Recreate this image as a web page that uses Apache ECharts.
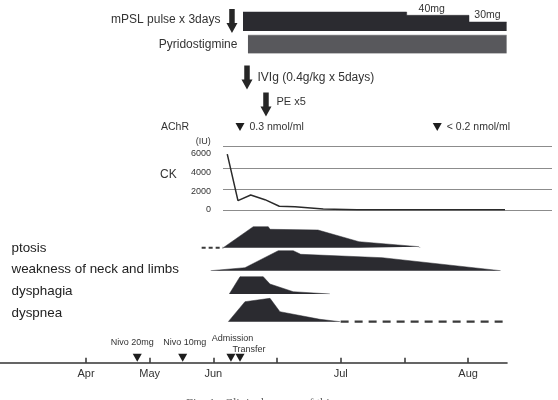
<!DOCTYPE html>
<html>
<head>
<meta charset="utf-8">
<script src="https://cdn.jsdelivr.net/npm/echarts@6/dist/echarts.min.js"></script>
<style>
  html, body { margin: 0; padding: 0; background: #fff; }
  #chart { width: 558px; height: 400px; }
</style>
</head>
<body>
<div id="chart"></div>
<script>
// time position unit: Apr=1, May=2, Jun=3, then half months (mid-Jun=4, Jul=5, mid-Jul=6, Aug=7)
var monthTicks = [1, 2, 3, 4, 5, 6, 7]
var monthNames = ['Apr', 'May', 'Jun', '', 'Jul', '', 'Aug']

// events on the time line
var eventNames = ['Nivo 20mg', 'Nivo 10mg', 'Admission', 'Transfer']
var eventPos = [1.805, 2.518, 3.276, 3.418]

// treatments (arrows)
var treatNames = ['mPSL pulse x 3days', 'IVIg (0.4g/kg x 5days)', 'PE x5']
var treatPos = [3.292, 3.528, 3.826]

// mPSL (step bar, relative level) and pyridostigmine
var mpslPos = [3.465, 6.035, 7.013, 7.604]
var mpslLevel = [19, 15.7, 9, 9]
var mpslDose = ['', '40mg', '30mg', '']
var pyridoPos = [3.543, 7.604]
var pyridoLevel = [18.3, 18.3]
var pyridoDose = '180mg'

// AChR antibody
var achrPos = [3.418, 6.515]
var achrText = ['0.3 nmol/ml', '< 0.2 nmol/ml']

// CK (IU)
var ckPos = [3.218, 3.386, 3.586, 3.810, 4.035, 4.281, 4.725, 5.250, 7.578]
var ckValue = [5950, 1000, 1600, 1100, 400, 350, 100, 20, 20]
var ckTicks = [0, 2000, 4000, 6000]

// symptoms: severity profile (relative height)
var symptomNames = ['ptosis', 'weakness of neck and limbs', 'dysphagia', 'dyspnea']
var ptosisPos = [3.155, 3.626, 3.862, 3.889, 4.642, 5.286, 6.228, 6.243]
var ptosisLevel = [0, 21, 21, 18.4, 17.7, 6, 1, 0]
var weaknessPos = [2.958, 3.496, 4.019, 4.254, 4.371, 5.652, 7.510]
var weaknessLevel = [0, 3, 20, 20, 16.4, 13, 0]
var dysphagiaPos = [3.250, 3.418, 3.783, 3.888, 4.254, 4.830]
var dysphagiaLevel = [0, 17.3, 17.3, 10, 2.3, 0]
var dyspneaPos = [3.234, 3.496, 3.889, 4.045, 4.674, 4.988]
var dyspneaLevel = [0, 20, 23.4, 10, 2.4, 0]
// uncertain periods (dashed)
var ptosisDashPos = [2.816, 3.155]
var dyspneaDashPos = [4.998, 7.604]

var DARK = '#2b2b30'
var TEXT = '#333'

function zip(xs, ys) {
  return xs.map(function (x, i) { return [x, ys[i]] })
}

var myChart = echarts.init(document.getElementById('chart'))

// grid layout: [top, height]; all timeline grids share the same x scale
var rows = [
  [340, 22.7],   // 0 time line
  [7, 24],       // 1 mPSL
  [29.5, 24],    // 2 pyridostigmine
  [16, 10],      // 3 mPSL arrow
  [72.5, 10],    // 4 IVIg arrow
  [99.5, 10],    // 5 PE arrow
  [122, 10],     // 6 AChR
  [146.7, 63.3], // 7 CK
  [223.7, 24],   // 8 ptosis
  [246.7, 24],   // 9 weakness
  [270, 24],     // 10 dysphagia
  [297.7, 24]    // 11 dyspnea
]
var yMax = [1, 24, 24, 1, 1, 1, 1, 6750, 24, 24, 24, 24]

var grids = [], xAxes = [], yAxes = []
rows.forEach(function (r, i) {
  var isCK = i === 7
  grids.push({
    left: isCK ? 223 : 0,
    right: isCK ? 6 : 51,
    top: r[0],
    height: r[1],
    containLabel: false,
    outerBoundsMode: 'none'
  })
  xAxes.push({
    gridIndex: i,
    type: 'value',
    min: isCK ? 3.151 : -0.35,
    max: isCK ? 8.316 : 7.61,
    show: i === 0,
    axisLine: { show: true, onZero: false, lineStyle: { color: TEXT, width: 1.6 } },
    axisTick: { show: true, inside: true, length: 5, customValues: monthTicks, lineStyle: { color: TEXT, width: 1.5 } },
    axisLabel: {
      show: true,
      customValues: [1, 2, 3, 5, 7],
      margin: 6,
      fontSize: 11,
      fontFamily: 'Liberation Sans',
      color: TEXT,
      formatter: function (v) { return monthNames[monthTicks.indexOf(Math.round(v))] || '' }
    },
    splitLine: { show: false }
  })
  yAxes.push({
    gridIndex: i,
    type: 'value',
    min: 0,
    max: yMax[i],
    interval: isCK ? 2250 : null,
    show: isCK,
    axisLine: { show: false },
    axisTick: { show: false },
    axisLabel: {
      customValues: ckTicks,
      margin: 12,
      fontSize: 9,
      fontFamily: 'Liberation Sans',
      color: TEXT,
      padding: [0, 0, 3, 0],
      formatter: function (v) { return String(v) }
    },
    splitLine: { show: isCK, lineStyle: { color: '#8c8c8c', width: 1 } }
  })
})

function area(idx, data, extra) {
  var s = {
    type: 'line',
    xAxisIndex: idx,
    yAxisIndex: idx,
    data: data,
    symbol: 'none',
    silent: true,
    lineStyle: { width: 0.5, color: DARK },
    areaStyle: { color: DARK, opacity: 1 }
  }
  return Object.assign(s, extra || {})
}

function dashed(idx, pos, dash, width) {
  return {
    type: 'line',
    xAxisIndex: idx,
    yAxisIndex: idx,
    data: pos.map(function (x) { return [x, 0] }),
    symbol: 'none',
    clip: false,
    lineStyle: { color: '#3a3a3a', width: width, type: dash }
  }
}

var labelFont = { fontFamily: 'Liberation Sans', color: TEXT }

var series = [
  // time line events
  {
    type: 'scatter',
    xAxisIndex: 0,
    yAxisIndex: 0,
    clip: false,
    symbol: 'triangle',
    symbolRotate: 180,
    symbolSize: [9, 8],
    symbolOffset: [0, -5],
    itemStyle: { color: '#1e1e1e', opacity: 1 },
    data: eventPos.map(function (x, i) {
      var offs = [[-5, 0], [2, 0], [1.5, -4], [9, 7]][i]
      return {
        value: [x, 0],
        label: { show: true, position: 'top', distance: 7, offset: offs, formatter: eventNames[i], fontSize: 9, fontFamily: 'Liberation Sans', color: TEXT }
      }
    })
  },
  // mPSL
  area(1, zip(mpslPos, mpslLevel), { step: 'end' }),
  {
    type: 'scatter',
    xAxisIndex: 1,
    yAxisIndex: 1,
    clip: false,
    symbolSize: 0,
    itemStyle: { opacity: 1 },
    data: [
      { value: [mpslPos[1], mpslLevel[1]], label: { show: true, position: 'top', distance: 1, offset: [25, 0], formatter: mpslDose[1] } },
      { value: [mpslPos[2], mpslLevel[2]], label: { show: true, position: 'top', distance: 1, offset: [18.5, 0], formatter: mpslDose[2] } }
    ],
    label: Object.assign({ fontSize: 10.5 }, labelFont)
  },
  // pyridostigmine
  area(2, zip(pyridoPos, pyridoLevel), { lineStyle: { width: 0.5, color: '#58585c' }, areaStyle: { color: '#58585c', opacity: 1 } }),
  {
    type: 'scatter',
    xAxisIndex: 2,
    yAxisIndex: 2,
    clip: false,
    symbolSize: 0,
    itemStyle: { opacity: 1 },
    data: [
      { value: [pyridoPos[0], pyridoLevel[0]], label: { show: true, position: 'left', distance: 10.5, offset: [0, 9], formatter: 'Pyridostigmine', fontSize: 12, color: TEXT } },
      { value: [pyridoPos[1], pyridoLevel[1]], label: { show: true, position: 'left', distance: 2, offset: [0, 9], formatter: pyridoDose, fontSize: 10.5, color: '#fff' } }
    ],
    label: { fontFamily: 'Liberation Sans' }
  },
  // AChR
  {
    type: 'scatter',
    xAxisIndex: 6,
    yAxisIndex: 6,
    clip: false,
    symbol: 'triangle',
    symbolRotate: 180,
    symbolSize: [9, 8],
    itemStyle: { color: '#1e1e1e', opacity: 1 },
    data: achrPos.map(function (x, i) {
      return { value: [x, 0.5], label: { show: true, position: 'right', distance: 5, formatter: achrText[i] } }
    }),
    label: Object.assign({ fontSize: 10.5 }, labelFont)
  },
  // CK
  {
    type: 'line',
    xAxisIndex: 7,
    yAxisIndex: 7,
    data: zip(ckPos, ckValue),
    symbol: 'none',
    lineStyle: { color: '#2a2a2a', width: 1.5 }
  },
  // symptoms
  dashed(8, ptosisDashPos, [4, 3], 2),
  area(8, zip(ptosisPos, ptosisLevel)),
  area(9, zip(weaknessPos, weaknessLevel)),
  area(10, zip(dysphagiaPos, dysphagiaLevel)),
  area(11, zip(dyspneaPos, dyspneaLevel)),
  dashed(11, dyspneaDashPos, [8, 6], 2.2)
]

// treatment arrows
var arrowPath = 'path://M3,0 L9,0 L9,14 L12,14 L6,24 L0,14 L3,14 Z'
treatPos.forEach(function (x, i) {
  var lab = [
    { position: 'left', distance: 6, fontSize: 12, offset: [0, -1] },
    { position: 'right', distance: 5, fontSize: 12, offset: [0, 0] },
    { position: 'right', distance: 5, fontSize: 11, offset: [0, -3] }
  ][i]
  series.push({
    type: 'scatter',
    xAxisIndex: 3 + i,
    yAxisIndex: 3 + i,
    clip: false,
    symbol: arrowPath,
    symbolSize: [11, 24],
    itemStyle: { color: '#262626', opacity: 1 },
    data: [[x, 0.5]],
    label: Object.assign({ show: true, formatter: treatNames[i] }, labelFont, lab)
  })
})

function txt(text, x, y, size, align, extra) {
  return {
    type: 'text',
    x: x,
    y: y,
    silent: true,
    style: Object.assign({
      text: text,
      fontSize: size,
      fontFamily: 'Liberation Sans',
      fill: TEXT,
      align: align || 'left',
      verticalAlign: 'middle'
    }, extra || {})
  }
}

var symptomY = [248, 269.5, 291, 313.3]
var graphics = symptomNames.map(function (n, i) { return txt(n, 11.5, symptomY[i], 13.4, 'left', { fill: '#222' }) })
graphics.push(txt('AChR', 161, 127, 10.5))
graphics.push(txt('CK', 160, 175, 12))
graphics.push(txt('(IU)', 210.7, 141.7, 9, 'right'))
graphics.push(txt('Fig. 1   Clinical course of this', 186, 404, 12.5, 'left', { fontFamily: 'Liberation Serif', fill: '#666' }))

myChart.setOption({
  animation: false,
  backgroundColor: '#fff',
  grid: grids,
  xAxis: xAxes,
  yAxis: yAxes,
  series: series,
  graphic: graphics
})
</script>
</body>
</html>
